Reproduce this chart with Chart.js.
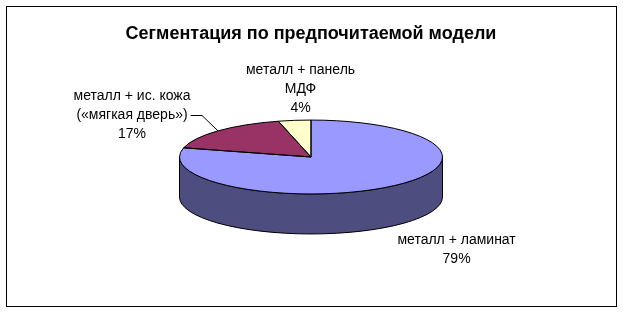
<!DOCTYPE html>
<html>
<head>
<meta charset="utf-8">
<script src="https://cdn.jsdelivr.net/npm/chart.js@4.4.1/dist/chart.umd.min.js"></script>
<style>
    html, body { margin: 0; padding: 0; background: #fff; }
    #wrap { width: 623px; height: 313px; }
</style>
</head>
<body>
<div id="wrap"><canvas id="segment_chart" width="623" height="313"></canvas></div>
<script>
const chartTitle = 'Сегментация по предпочитаемой модели';
const categories = [
    ['металл + ламинат'],
    ['металл + ис. кожа', '(«мягкая дверь»)'],
    ['металл + панель', 'МДФ']
];
const shares = [79, 17, 4];
const topColors = ['#9999ff', '#993366', '#ffffcc'];
const sideColors = ['#4d4d80', '#4d1a33', '#80806a'];

// where each label sits, relative to the slice middle on the rim
const labelOffsets = [[65, 63], [-86, -16], [6, -31]];
const leaders = [false, true, false];

const fontFamily = '"Liberation Sans", Arial, sans-serif';
const tilt = 0.281;   // vertical squash of the pie
const depth = 40;     // height of the 3d side in px

function squash(ctx, cx, cy) {
    ctx.translate(cx, cy);
    ctx.scale(1, tilt);
    ctx.translate(-cx, -cy);
}

const pie3d = {
    id: 'pie3d',
    beforeDatasetDraw(chart) {
        const ctx = chart.ctx;
        const arcs = chart.getDatasetMeta(0).data;
        const cx = arcs[0].x, cy = arcs[0].y, r = arcs[0].outerRadius;
        const d = depth / tilt;
        // side wall, only the front half is visible
        arcs.forEach((arc, i) => {
            [[0, Math.PI], [2 * Math.PI, 3 * Math.PI]].forEach(([lo, hi]) => {
                const a = Math.max(arc.startAngle, lo);
                const b = Math.min(arc.endAngle, hi);
                if (b <= a) return;
                ctx.save();
                squash(ctx, cx, cy);
                ctx.beginPath();
                ctx.arc(cx, cy, r, a, b);
                ctx.arc(cx, cy + d, r, b, a, true);
                ctx.closePath();
                ctx.restore();
                ctx.fillStyle = sideColors[i];
                ctx.fill();
                ctx.strokeStyle = '#000';
                ctx.lineWidth = 1;
                ctx.stroke();
            });
        });
        ctx.save();
        squash(ctx, cx, cy);
    },
    afterDatasetDraw(chart) {
        const ctx = chart.ctx;
        ctx.restore();
        chart.getDatasetMeta(0).data.forEach(arc => {
            ctx.save();
            squash(ctx, arc.x, arc.y);
            ctx.beginPath();
            ctx.moveTo(arc.x, arc.y);
            ctx.arc(arc.x, arc.y, arc.outerRadius, arc.startAngle, arc.endAngle);
            ctx.closePath();
            ctx.restore();
            ctx.strokeStyle = '#000';
            ctx.lineWidth = 1;
            ctx.stroke();
        });
    },
    afterDraw(chart) {
        const ctx = chart.ctx;
        const arcs = chart.getDatasetMeta(0).data;
        const total = shares.reduce((s, v) => s + v, 0);
        ctx.save();
        ctx.font = '14px ' + fontFamily;
        ctx.fillStyle = '#000';
        ctx.strokeStyle = '#000';
        ctx.lineWidth = 1;
        ctx.textAlign = 'center';
        ctx.textBaseline = 'middle';
        arcs.forEach((arc, i) => {
            const mid = (arc.startAngle + arc.endAngle) / 2;
            const px = arc.x + arc.outerRadius * Math.cos(mid);
            const py = arc.y + arc.outerRadius * tilt * Math.sin(mid);
            const lx = px + labelOffsets[i][0];
            const ly = py + labelOffsets[i][1];
            const lines = categories[i].concat([Math.round(shares[i] / total * 100) + '%']);
            const lh = 19;
            lines.forEach((t, j) => {
                ctx.fillText(t, lx, ly + (j - (lines.length - 1) / 2) * lh);
            });
            if (leaders[i]) {
                const w = ctx.measureText(lines[1]).width;
                ctx.beginPath();
                ctx.moveTo(px, py);
                ctx.lineTo(px - 16, Math.round(ly) + 0.5);
                ctx.lineTo(lx + w / 2 + 3, Math.round(ly) + 0.5);
                ctx.stroke();
            }
        });
        // chart frame
        ctx.strokeRect(6.5, 6.5, 610, 300);
        ctx.restore();
    }
};

const myChart = new Chart(document.getElementById('segment_chart'), {
    type: 'pie',
    data: {
        labels: categories,
        datasets: [{
            data: shares,
            backgroundColor: topColors,
            borderWidth: 0,
            clip: false
        }]
    },
    options: {
        responsive: false,
        animation: false,
        radius: 131.5,
        layout: {
            padding: { left: 0, right: 1, top: 0, bottom: 43.6 }
        },
        plugins: {
            legend: { display: false },
            tooltip: { enabled: false },
            title: {
                display: true,
                text: chartTitle,
                color: '#000',
                font: { family: fontFamily, size: 18, weight: 'bold' },
                padding: { top: 23, bottom: 0 }
            }
        }
    },
    plugins: [pie3d]
});
</script>
</body>
</html>
